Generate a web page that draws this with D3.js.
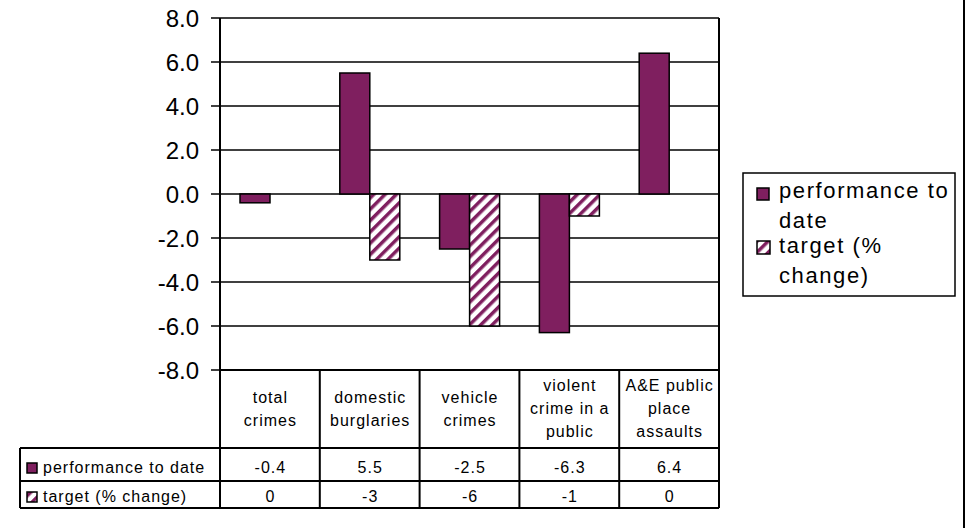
<!DOCTYPE html>
<html><head><meta charset="utf-8">
<script src="https://cdn.jsdelivr.net/npm/d3@7"></script>
<style>body{margin:0;background:#fff}svg{display:block;font-family:"Liberation Sans",Arial,sans-serif}</style>
</head><body><svg id="c" width="967" height="528"></svg>
<script>
const categories = [["total","crimes"],["domestic","burglaries"],["vehicle","crimes"],["violent","crime in a","public"],["A&E public","place","assaults"]];
const performance = [-0.4, 5.5, -2.5, -6.3, 6.4];
const target = [0, -3, -6, -1, 0];
const yTicks = [8,6,4,2,0,-2,-4,-6,-8];
const seriesNames = ["performance to date","target (% change)"];
const perfLabels = ["-0.4","5.5","-2.5","-6.3","6.4"];
const targetLabels = ["0","-3","-6","-1","0"];

const purple = "#7f1f5f";
const svg = d3.select("#c");
const defs = svg.append("defs");
const pat = defs.append("pattern").attr("id","hatch").attr("patternUnits","userSpaceOnUse")
  .attr("width",8).attr("height",8).attr("patternTransform","rotate(45)");
pat.append("rect").attr("width",8).attr("height",8).attr("fill","#fff");
pat.append("rect").attr("x",0).attr("width",3.5).attr("height",8).attr("fill",purple);

const L=220,R=719,T=18,B=370;
const y = d3.scaleLinear().domain([-8,8]).range([B,T]);
const x = d3.scaleBand().domain(d3.range(categories.length)).range([L,R]).paddingInner(0).paddingOuter(0);
const x1 = d3.scaleBand().domain([0,1]).range([20,80]);

svg.append("g").selectAll("line").data(yTicks).join("line")
  .attr("x1",L-9).attr("x2",R).attr("y1",d=>y(d)).attr("y2",d=>y(d))
  .attr("stroke","#000").attr("stroke-width",1.5);
svg.append("g").selectAll("text").data(yTicks).join("text")
  .attr("x",199).attr("y",d=>y(d)).attr("dy","0.36em").attr("text-anchor","end")
  .attr("font-size",24).text(d=>d.toFixed(1));

const bw = x.bandwidth();
const g = svg.append("g");
g.selectAll("rect.p").data(performance).join("rect").attr("class","p")
  .attr("x",(d,i)=>x(i)+x1(0)).attr("width",x1.bandwidth())
  .attr("y",d=>y(Math.max(0,d))).attr("height",d=>Math.abs(y(d)-y(0)))
  .attr("fill",purple).attr("stroke","#000").attr("stroke-width",1.5);
g.selectAll("rect.t").data(target).join("rect").attr("class","t")
  .attr("x",(d,i)=>x(i)+x1(1)).attr("width",x1.bandwidth())
  .attr("y",d=>y(Math.max(0,d))).attr("height",d=>Math.abs(y(d)-y(0)))
  .attr("fill","url(#hatch)").attr("stroke","#000").attr("stroke-width",1.5)
  .attr("display",d=>d===0?"none":null);

svg.append("line").attr("x1",L).attr("x2",L).attr("y1",T).attr("y2",508).attr("stroke","#000").attr("stroke-width",2);
svg.append("line").attr("x1",R).attr("x2",R).attr("y1",T).attr("y2",508).attr("stroke","#000").attr("stroke-width",2);

const tg = svg.append("g").attr("stroke","#000").attr("stroke-width",2);
tg.append("line").attr("x1",L).attr("x2",R).attr("y1",370).attr("y2",370);
[448,481,508].forEach(r=>tg.append("line").attr("x1",20).attr("x2",R).attr("y1",r).attr("y2",r));
tg.append("line").attr("x1",20).attr("x2",20).attr("y1",448).attr("y2",508);
d3.range(1,categories.length).forEach(i=>tg.append("line").attr("x1",x(i)).attr("x2",x(i)).attr("y1",370).attr("y2",508));

const fs=16, ls=1;
categories.forEach((c,i)=>{
  const cx=x(i)+bw/2+ls/2, cy=408.5, lh=23;
  const t=svg.append("text").attr("text-anchor","middle").attr("font-size",fs).attr("letter-spacing",ls);
  c.forEach((s,j)=>t.append("tspan").attr("x",cx).attr("y",cy+(j-(c.length-1)/2)*lh).attr("dy","0.35em").text(s));
});
svg.append("g").selectAll("text").data(perfLabels).join("text")
  .attr("x",(d,i)=>x(i)+bw/2+ls/2).attr("y",473).attr("text-anchor","middle").attr("font-size",fs).attr("letter-spacing",ls).text(d=>d);
svg.append("g").selectAll("text").data(targetLabels).join("text")
  .attr("x",(d,i)=>x(i)+bw/2+ls/2).attr("y",502).attr("text-anchor","middle").attr("font-size",fs).attr("letter-spacing",ls).text(d=>d);
svg.append("rect").attr("x",27).attr("y",463).attr("width",10).attr("height",10).attr("fill",purple).attr("stroke","#000").attr("stroke-width",1.5);
svg.append("rect").attr("x",27).attr("y",492).attr("width",10).attr("height",10).attr("fill","url(#hatch)").attr("stroke","#000").attr("stroke-width",1.5);
svg.append("text").attr("x",43).attr("y",473).attr("font-size",fs).attr("letter-spacing",ls).text(seriesNames[0]);
svg.append("text").attr("x",43).attr("y",502).attr("font-size",fs).attr("letter-spacing",ls).text(seriesNames[1]);

svg.append("rect").attr("x",743).attr("y",173).attr("width",212).attr("height",123).attr("fill","#fff").attr("stroke","#000").attr("stroke-width",1.5);
svg.append("rect").attr("x",757).attr("y",188).attr("width",12).attr("height",12).attr("fill",purple).attr("stroke","#000").attr("stroke-width",1.5);
svg.append("rect").attr("x",757).attr("y",241).attr("width",13).attr("height",13).attr("fill","url(#hatch)").attr("stroke","#000").attr("stroke-width",1.5);
const lt1=svg.append("text").attr("font-size",22).attr("letter-spacing",1.6);
lt1.append("tspan").attr("x",779).attr("y",198).text("performance to");
lt1.append("tspan").attr("x",779).attr("y",228).text("date");
const lt2=svg.append("text").attr("font-size",22).attr("letter-spacing",1.6);
lt2.append("tspan").attr("x",779).attr("y",253).text("target (%");
lt2.append("tspan").attr("x",779).attr("y",283).text("change)");

svg.append("line").attr("x1",964).attr("x2",964).attr("y1",0).attr("y2",528).attr("stroke","#000").attr("stroke-width",2);
</script></body></html>
